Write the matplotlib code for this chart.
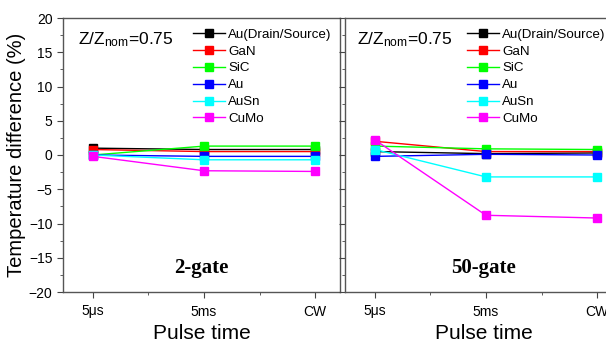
import matplotlib
matplotlib.use("Agg")
import matplotlib.pyplot as plt
from matplotlib.ticker import MultipleLocator, FixedLocator

plt.rcParams['font.family'] = ['Liberation Sans', 'DejaVu Sans']
plt.rcParams['mathtext.fontset'] = 'custom'
plt.rcParams['mathtext.rm'] = 'Liberation Sans'
plt.rcParams['mathtext.it'] = 'Liberation Sans'

categories = ["5\u03bcs", "5ms", "CW"]
series_names = ["Au(Drain/Source)", "GaN", "SiC", "Au", "AuSn", "CuMo"]
colors = ["#000000", "#ff0000", "#00ff00", "#0000ff", "#00ffff", "#ff00ff"]

gate2 = {
    "Au(Drain/Source)": [1.0, 0.8, 0.8],
    "GaN": [0.8, 0.5, 0.5],
    "SiC": [0.0, 1.3, 1.3],
    "Au": [0.0, -0.2, -0.2],
    "AuSn": [0.0, -0.7, -0.7],
    "CuMo": [-0.2, -2.3, -2.4],
}
gate50 = {
    "Au(Drain/Source)": [0.5, 0.2, 0.3],
    "GaN": [2.0, 0.5, 0.5],
    "SiC": [1.3, 0.9, 0.8],
    "Au": [-0.2, 0.1, 0.0],
    "AuSn": [0.8, -3.2, -3.2],
    "CuMo": [2.2, -8.8, -9.2],
}
panel_titles = ["2-gate", "50-gate"]

fig = plt.figure(figsize=(6.06, 3.51), dpi=100)
W = 277 / 606
ax1 = fig.add_axes([63 / 606, 59 / 351, W, 274 / 351])
ax2 = fig.add_axes([345 / 606, 59 / 351, W, 274 / 351])

x = list(range(len(categories)))
for ax, data, title, zx, lx in zip([ax1, ax2], [gate2, gate50], panel_titles,
                                   [0.054, 0.043], [0.469, 0.44]):
    for name, c in zip(series_names, colors):
        ax.plot(x, data[name], color=c, lw=1.0, marker='s', ms=6,
                mec=c, mfc=c, label=name)
    ax.set_xlim(-0.27, 2.225)
    ax.set_ylim(-20, 20)
    ax.yaxis.set_major_locator(MultipleLocator(5))
    ax.yaxis.set_minor_locator(MultipleLocator(2.5))
    ax.set_xticks(x)
    ax.set_xticklabels(categories)
    ax.xaxis.set_minor_locator(FixedLocator([0.5, 1.5]))
    ax.tick_params(which='both', direction='out', labelsize=10, color='#444444')
    ax.tick_params(which='major', length=4)
    ax.tick_params(which='minor', length=2.5)
    ax.tick_params(axis='x', pad=5)
    for s in ax.spines.values():
        s.set_color('#555555')
        s.set_linewidth(1.0)
    ax.set_xlabel("Pulse time", fontsize=15, labelpad=4)
    ax.text(0.5, 0.05, title, transform=ax.transAxes, ha='center', va='bottom',
            fontsize=15, fontweight='bold', family='Liberation Serif')
    ax.text(zx, 0.955, r"Z/Z$_{\mathrm{nom}}$=0.75", transform=ax.transAxes,
            ha='left', va='top', fontsize=12.5)
    ax.legend(loc='upper left', bbox_to_anchor=(lx, 0.962), frameon=False,
              fontsize=9.6, handlelength=2.4, handletextpad=0.25,
              labelspacing=0.34, borderaxespad=0.0, borderpad=0.0,
              markerscale=0.9)

ax2.tick_params(axis='y', labelleft=False)
ax1.set_ylabel("Temperature difference (%)", fontsize=14.5, labelpad=2)

fig.savefig("out.png", dpi=100)
